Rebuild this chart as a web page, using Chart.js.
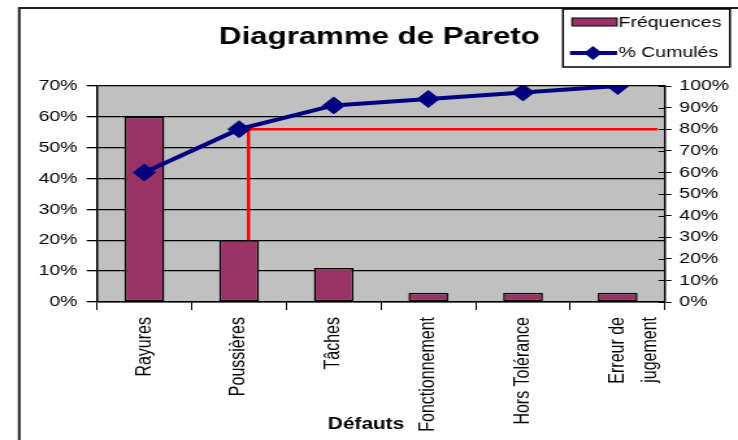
<!DOCTYPE html>
<html><head><meta charset="utf-8">
<script src="https://cdn.jsdelivr.net/npm/chart.js@4/dist/chart.umd.min.js"></script>
<style>
html,body{margin:0;padding:0;background:#fff;overflow:hidden;width:738px;height:440px}
#c{display:block;transform:scaleX(1.2993);transform-origin:0 0}
</style>
</head><body>
<canvas id="c" width="568" height="440"></canvas>
<script>
// ---- data ----
const categories = ['Rayures', 'Poussières', 'Tâches', 'Fonctionnement', 'Hors Tolérance', ['Erreur de', 'jugement']];
const frequences = [60, 20, 11, 3, 3, 3];          // % (left axis)
const cumules = [60, 80, 91, 94, 97, 100];         // % (right axis)
const leftTicks = [0, 10, 20, 30, 40, 50, 60, 70];
const rightTicks = [0, 10, 20, 30, 40, 50, 60, 70, 80, 90, 100];
const seuil = 80;                                   // Pareto 80% threshold (right axis)
const seuilX = [1.1, 5.42];                         // category-index span of the threshold line
const chartTitle = 'Diagramme de Pareto';
const xTitle = 'Défauts';

const leftMax = leftTicks[leftTicks.length - 1];
const rightMax = rightTicks[rightTicks.length - 1];
const seuilDepart = frequences[1] * rightMax / leftMax;

Chart.defaults.font.family = '"Liberation Sans", Arial, sans-serif';
Chart.defaults.color = '#000';

const FONT = '"Liberation Sans", Arial, sans-serif';

const decor = {
  id: 'decor',
  beforeDraw(chart) {
    const { ctx, chartArea: a } = chart;
    ctx.save();
    ctx.fillStyle = '#fff';
    ctx.fillRect(0, 0, chart.width, chart.height);
    ctx.fillStyle = '#C0C0C0';
    ctx.fillRect(a.left, a.top, a.right - a.left, a.bottom - a.top);
    ctx.restore();
  },
  afterDraw(chart) {
    const { ctx, chartArea: a } = chart;
    ctx.save();
    // inner half of right-axis tick marks
    const y1 = chart.scales.y1;
    ctx.strokeStyle = '#000';
    ctx.lineWidth = 1;
    y1.ticks.forEach(t => {
      const py = Math.round(y1.getPixelForValue(t.value)) + 0.5;
      ctx.beginPath();
      ctx.moveTo(a.right - 5, py);
      ctx.lineTo(a.right, py);
      ctx.stroke();
    });
    // outer chart border
    ctx.strokeStyle = '#222';
    ctx.lineWidth = 2;
    ctx.strokeRect(14.8, 8, 1000, 1000);
    // x axis title
    ctx.fillStyle = '#000';
    ctx.font = 'bold 16px ' + FONT;
    ctx.textAlign = 'center';
    ctx.textBaseline = 'middle';
    ctx.fillText(xTitle, 281.7, 425);
    // legend
    const d0 = chart.data.datasets[0], d1 = chart.data.datasets[1];
    ctx.fillStyle = '#fff';
    ctx.fillRect(433.3, 9, 128.5, 58);
    ctx.strokeStyle = '#000';
    ctx.lineWidth = 1.5;
    ctx.strokeRect(433.3, 9, 128.5, 58);
    ctx.fillStyle = d0.backgroundColor;
    ctx.fillRect(440.2, 18, 34.7, 8);
    ctx.lineWidth = 1;
    ctx.strokeRect(440.2, 18, 34.7, 8);
    ctx.fillStyle = '#000';
    ctx.font = '15px ' + FONT;
    ctx.textAlign = 'left';
    ctx.fillText(d0.label, 476, 22.5);
    ctx.strokeStyle = d1.borderColor;
    ctx.lineWidth = 4;
    ctx.beginPath();
    ctx.moveTo(438.7, 53);
    ctx.lineTo(474.9, 53);
    ctx.stroke();
    ctx.fillStyle = d1.backgroundColor;
    ctx.beginPath();
    ctx.moveTo(456.4, 46); ctx.lineTo(463.4, 53); ctx.lineTo(456.4, 60); ctx.lineTo(449.4, 53);
    ctx.closePath();
    ctx.fill();
    ctx.fillStyle = '#000';
    ctx.fillText(d1.label, 476, 53);
    ctx.restore();
  }
};

new Chart(document.getElementById('c'), {
  type: 'bar',
  data: {
    labels: categories,
    datasets: [
      {
        type: 'bar', label: 'Fréquences', data: frequences,
        backgroundColor: '#993366', borderColor: '#000', borderWidth: 1.5, borderSkipped: false,
        barPercentage: 0.42, categoryPercentage: 1, grouped: false,
        xAxisID: 'x', yAxisID: 'y', order: 3
      },
      {
        type: 'line', label: '% Cumulés', data: cumules,
        borderColor: '#000080', backgroundColor: '#000080', borderWidth: 4,
        pointStyle: 'rectRot', pointRadius: 8.5, pointBorderWidth: 1,
        tension: 0, xAxisID: 'x', yAxisID: 'y1', order: 1
      },
      {
        type: 'line', label: 'seuil',
        data: [{ x: seuilX[0], y: seuilDepart }, { x: seuilX[0], y: seuil }, { x: seuilX[1], y: seuil }],
        borderColor: '#FF0000', borderWidth: 2.5, pointRadius: 0, tension: 0,
        xAxisID: 'xr', yAxisID: 'y1', order: 2
      }
    ]
  },
  options: {
    responsive: false,
    animation: false,
    devicePixelRatio: 1,
    layout: { padding: { left: 16, right: 0, top: 0, bottom: 0 } },
    plugins: {
      legend: { display: false },
      tooltip: { enabled: false },
      title: {
        display: true, text: chartTitle, color: '#000',
        font: { size: 24, weight: 'bold' },
        padding: { top: 23.1, bottom: 34.1 }
      }
    },
    scales: {
      x: {
        type: 'category', offset: true,
        grid: { drawOnChartArea: false, drawTicks: true, tickLength: 8, color: '#000', lineWidth: 1, offset: true },
        border: { display: true, color: '#000', width: 1.5 },
        ticks: { color: '#000', font: { size: 16, lineHeight: 1.6 }, minRotation: 90, maxRotation: 90, autoSkip: false, padding: 7 },
        afterFit(s) { s.height = 138; }
      },
      xr: { type: 'linear', display: false, offset: false, min: -0.5, max: 5.5, grid: { offset: false } },
      y: {
        position: 'left', min: 0, max: leftMax,
        ticks: { stepSize: 10, callback: v => v + '%', color: '#000', font: { size: 15 }, padding: 7 },
        grid: { color: '#000', lineWidth: 1.3, tickLength: 8 },
        border: { color: '#000', width: 1.5 },
        afterFit(s) { s.width = 58.7; }
      },
      y1: {
        position: 'right', min: 0, max: rightMax,
        ticks: { stepSize: 10, callback: v => v + '%', color: '#000', font: { size: 15 }, padding: 6 },
        grid: { drawOnChartArea: false, color: '#000', tickLength: 5 },
        border: { color: '#000', width: 1.5 },
        afterFit(s) { s.width = 56.2; }
      }
    }
  },
  plugins: [decor]
});
</script>
</body></html>
